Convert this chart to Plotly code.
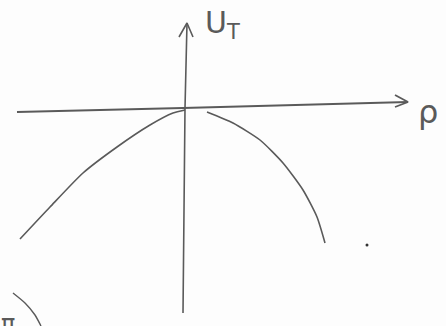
import plotly.graph_objects as go

# sketch coordinates: origin where the axes cross, units ~ 1 px
curve_left_rho = [-163, -133, -100, -66, -33, -10, 2]
curve_left_u = [-131, -99, -65, -39, -17, -5, -2]
curve_right_rho = [24, 50, 77, 100, 120, 134, 142]
curve_right_u = [-4, -15, -32, -55, -82, -109, -135]

rho_axis_x = [-166, 0, 225]
rho_axis_y = [-4, 0, 6]
u_axis_x = [0, 2, 4]
u_axis_y = [-205, 0, 85]

rho_head_x = [212, 225, 212]
rho_head_y = [13, 6, 1]
u_head_x = [-4, 4, 10]
u_head_y = [71, 85, 71]

stray_dot = ([184], [-137])
corner_stroke_x = [-170, -158, -148, -142]
corner_stroke_y = [-185, -195, -207, -218]

INK = "#5a5a5a"

fig = go.Figure()


def stroke(x, y, width=1.6, smooth=0.6):
    fig.add_trace(go.Scatter(
        x=x, y=y, mode="lines",
        line=dict(color=INK, width=width, shape="spline", smoothing=smooth),
        hoverinfo="skip", showlegend=False,
    ))


stroke(rho_axis_x, rho_axis_y, 1.8)
stroke(u_axis_x, u_axis_y, 1.6)
stroke(rho_head_x, rho_head_y, 1.8, 0)
stroke(u_head_x, u_head_y, 1.6, 0)
stroke(curve_left_rho, curve_left_u, 1.6)
stroke(curve_right_rho, curve_right_u, 1.6)
stroke(corner_stroke_x, corner_stroke_y, 1.4)

fig.add_trace(go.Scatter(
    x=stray_dot[0], y=stray_dot[1], mode="markers",
    marker=dict(color="#333", size=3), hoverinfo="skip", showlegend=False,
))

fig.add_annotation(x=20, y=84, text="U<sub>T</sub>", showarrow=False,
                   xanchor="left", yanchor="middle",
                   font=dict(family="DejaVu Sans", size=30, color=INK))
fig.add_annotation(x=245, y=-4, text="ρ", showarrow=False,
                   xanchor="center", yanchor="middle",
                   font=dict(family="DejaVu Sans", size=32, color=INK))
fig.add_annotation(x=-175, y=-216, text="π", showarrow=False,
                   xanchor="center", yanchor="middle",
                   font=dict(family="DejaVu Sans", size=24, color=INK))

fig.update_layout(
    width=446, height=326,
    margin=dict(l=0, r=0, t=0, b=0),
    paper_bgcolor="#fdfdfd", plot_bgcolor="#fdfdfd",
    xaxis=dict(range=[-183, 263], visible=False, fixedrange=True),
    yaxis=dict(range=[-218, 108], visible=False, fixedrange=True),
)

fig.write_html("out.html", config={"displayModeBar": False},
               post_script="document.body.style.margin='0';")
